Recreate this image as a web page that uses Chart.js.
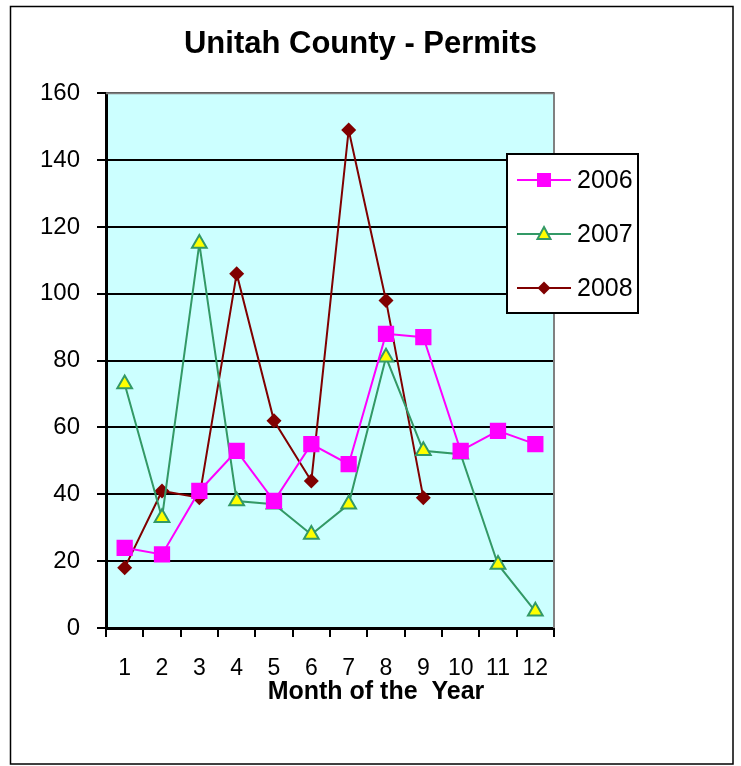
<!DOCTYPE html>
<html>
<head>
<meta charset="utf-8">
<script src="https://cdn.jsdelivr.net/npm/chart.js@4/dist/chart.umd.min.js"></script>
<style>
    html, body { margin: 0; padding: 0; background: #fff; }
    #wrap { position: relative; width: 741px; height: 766px; }
</style>
</head>
<body>
<div id="wrap"><canvas id="permitsChart"></canvas></div>
<script>
    // Dữ liệu
    const months = ["1", "2", "3", "4", "5", "6", "7", "8", "9", "10", "11", "12"];
    const permits2006 = [24, 22, 41, 53, 38, 55, 49, 88, 87, 53, 59, 55];
    const permits2007 = [73, 33, 115, 38, 37, 28, 37, 81, 53, 52, 19, 5];
    const permits2008 = [18, 41, 39, 106, 62, 44, 149, 98, 39, null, null, null];
    const seriesNames = ["2006", "2007", "2008"];

    Chart.defaults.font.family = "'Liberation Sans', Arial, Helvetica, sans-serif";
    Chart.defaults.color = "#000";

    // nền vùng vẽ, viền ngoài, khung xám, tiêu đề trục X, chú giải
    const decorPlugin = {
        id: "decor",
        beforeDraw(chart) {
            const { ctx, chartArea: a } = chart;
            ctx.save();
            ctx.fillStyle = "#fff";
            ctx.fillRect(0, 0, chart.width, chart.height);
            ctx.fillStyle = "#CCFFFF";
            ctx.fillRect(a.left, a.top, a.right - a.left, a.bottom - a.top);
            ctx.strokeStyle = "#000";
            ctx.lineWidth = 1.5;
            ctx.strokeRect(10.5, 6.5, 722.5, 757.5);
            ctx.restore();
        },
        beforeDatasetsDraw(chart) {
            const { ctx, chartArea: a } = chart;
            ctx.save();
            ctx.strokeStyle = "#808080";
            ctx.lineWidth = 2;
            ctx.beginPath();
            ctx.moveTo(a.left, a.top);
            ctx.lineTo(a.right, a.top);
            ctx.lineTo(a.right, a.bottom);
            ctx.stroke();
            ctx.restore();
        },
        afterDraw(chart) {
            const { ctx } = chart;
            ctx.save();
            ctx.fillStyle = "#000";
            ctx.font = "bold 25px 'Liberation Sans', Arial, sans-serif";
            ctx.textAlign = "center";
            ctx.textBaseline = "middle";
            ctx.fillText("Month of the  Year", 376, 692);

            // chú giải
            ctx.fillStyle = "#fff";
            ctx.fillRect(507, 154, 131, 159);
            ctx.strokeStyle = "#000";
            ctx.lineWidth = 2;
            ctx.strokeRect(507, 154, 131, 159);
            const rows = [180, 234, 288];
            chart.data.datasets.forEach((ds, i) => {
                const y = rows[i];
                ctx.strokeStyle = ds.borderColor;
                ctx.lineWidth = 2;
                ctx.beginPath();
                ctx.moveTo(517, y);
                ctx.lineTo(571, y);
                ctx.stroke();
                drawMarker(ctx, ds.pointStyle, 544, y, ds.pointBackgroundColor, ds.pointBorderColor);
                ctx.fillStyle = "#000";
                ctx.font = "25px 'Liberation Sans', Arial, sans-serif";
                ctx.textAlign = "left";
                ctx.textBaseline = "middle";
                ctx.fillText(ds.label, 577, y + 1);
            });
            ctx.restore();
        },
    };

    function drawMarker(ctx, style, x, y, fill, stroke) {
        ctx.fillStyle = fill;
        ctx.strokeStyle = stroke;
        ctx.beginPath();
        if (style === "rect") {
            ctx.rect(x - 7, y - 7, 14, 14);
            ctx.fill();
        } else if (style === "triangle") {
            ctx.lineWidth = 2;
            ctx.moveTo(x, y - 7);
            ctx.lineTo(x + 6.5, y + 5);
            ctx.lineTo(x - 6.5, y + 5);
            ctx.closePath();
            ctx.fill();
            ctx.stroke();
        } else {
            ctx.moveTo(x, y - 6.5);
            ctx.lineTo(x + 6.5, y);
            ctx.lineTo(x, y + 6.5);
            ctx.lineTo(x - 6.5, y);
            ctx.closePath();
            ctx.fill();
        }
    }

    const ctxPermits = document.getElementById("permitsChart");
    new Chart(ctxPermits, {
        type: "line",
        data: {
            labels: months,
            datasets: [
                {
                    label: seriesNames[0],
                    data: permits2006,
                    borderColor: "#FF00FF",
                    borderWidth: 2,
                    pointStyle: "rect",
                    pointRadius: 11.5,
                    pointBorderWidth: 0,
                    pointBackgroundColor: "#FF00FF",
                    pointBorderColor: "#FF00FF",
                    tension: 0,
                },
                {
                    label: seriesNames[1],
                    data: permits2007,
                    borderColor: "#339966",
                    borderWidth: 2,
                    pointStyle: "triangle",
                    pointRadius: 8.5,
                    pointBorderWidth: 2,
                    pointBackgroundColor: "#FFFF00",
                    pointBorderColor: "#339966",
                    tension: 0,
                },
                {
                    label: seriesNames[2],
                    data: permits2008,
                    borderColor: "#800000",
                    borderWidth: 2,
                    pointStyle: "rectRot",
                    pointRadius: 7.5,
                    pointBorderWidth: 0,
                    pointBackgroundColor: "#800000",
                    pointBorderColor: "#800000",
                    tension: 0,
                    spanGaps: false,
                },
            ],
        },
        options: {
            responsive: true,
            maintainAspectRatio: false,
            animation: false,
            layout: { padding: { left: 0, right: 20, top: 0, bottom: 0 } },
            plugins: {
                legend: { display: false },
                tooltip: { enabled: false },
                title: {
                    display: true,
                    text: "Unitah County - Permits",
                    font: { size: 31, weight: "bold" },
                    color: "#000",
                    padding: { top: 26, bottom: 30 },
                },
            },
            scales: {
                x: {
                    offset: true,
                    grid: {
                        display: true,
                        offset: true,
                        drawOnChartArea: false,
                        tickLength: 9,
                        tickColor: "#000",
                        lineWidth: 2,
                    },
                    border: { display: true, color: "#000", width: 3 },
                    ticks: { font: { size: 23 }, padding: 18, maxRotation: 0, autoSkip: false },
                    afterFit(s) { s.height = 138; },
                },
                y: {
                    min: 0,
                    max: 160,
                    ticks: { stepSize: 20, font: { size: 24 }, padding: 17 },
                    grid: { color: "#000", lineWidth: 2, tickLength: 9, tickColor: "#000" },
                    border: { display: true, color: "#000", width: 3 },
                    afterFit(s) { s.width = 106; },
                },
                yRight: {
                    type: "linear",
                    position: "right",
                    min: 0,
                    max: 160,
                    grid: { display: false },
                    border: { display: false },
                    ticks: { display: false },
                    afterFit(s) { s.width = 167; },
                },
            },
        },
        plugins: [decorPlugin],
    });
</script>
</body>
</html>
